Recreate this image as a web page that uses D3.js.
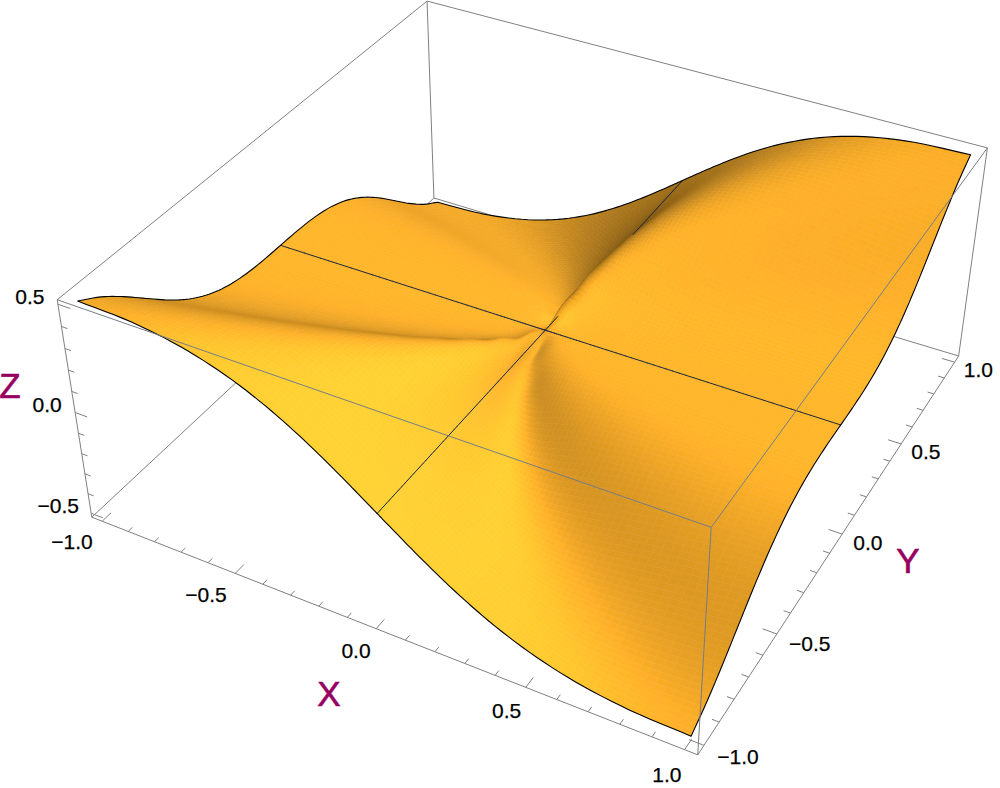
<!DOCTYPE html>
<html>
<head>
<meta charset="UTF-8">
<title>Surface plot</title>
<script src="https://cdnjs.cloudflare.com/ajax/libs/d3/7.8.5/d3.min.js"></script>
<style>
  body { margin: 0; background: #fff; }
  svg { display: block; }
  text { font-family: "Liberation Sans", Arial, sans-serif; }
</style>
</head>
<body>
<svg id="chart" width="1000" height="788"></svg>
<script>
// sample positions of the surface table
var xStops = [-1,-.81,-.64,-.49,-.36,-.25,-.16,-.09,-.04,-.01,0,.01,.04,.09,.16,.25,.36,.49,.64,.81,1];
var yStops = [-1,-.9,-.8,-.7,-.6,-.5,-.4,-.3,-.2,-.1,0,.1,.2,.3,.4,.5,.6,.7,.8,.9,1];

// surface heights, one row per y stop, one column per x stop
var zRows = [
  [.5,.4891,.454,.3951,.3187,.2353,.156,.0893,.0399,.01,0,-.01,-.0399,-.0893,-.156,-.2353,-.3187,-.3951,-.454,-.4891,-.5],
  [.4402,.45,.4378,.3986,.334,.2536,.1711,.0988,.0443,.0111,0,-.0111,-.0443,-.0988,-.1711,-.2536,-.334,-.3986,-.4378,-.45,-.4402],
  [.3632,.3892,.4,.3861,.3418,.2711,.1882,.1103,.0498,.0125,0,-.0125,-.0498,-.1103,-.1882,-.2711,-.3418,-.3861,-.4,-.3892,-.3632],
  [.2766,.31,.3379,.35,.334,.2834,.2065,.1244,.0568,.0143,0,-.0143,-.0568,-.1244,-.2065,-.2834,-.334,-.35,-.3379,-.31,-.2766],
  [.1912,.2227,.2564,.2863,.3,.2811,.2227,.1412,.0659,.0167,0,-.0167,-.0659,-.1412,-.2227,-.2811,-.3,-.2863,-.2564,-.2227,-.1912],
  [.1176,.1409,.1695,.2024,.2343,.25,.227,.1593,.078,.02,0,-.02,-.078,-.1593,-.227,-.25,-.2343,-.2024,-.1695,-.1409,-.1176],
  [.0624,.076,.0941,.118,.1485,.1816,.2,.1709,.0941,.0249,0,-.0249,-.0941,-.1709,-.2,-.1816,-.1485,-.118,-.0941,-.076,-.0624],
  [.0268,.0329,.0414,.0533,.0706,.0956,.1282,.15,.1113,.0329,0,-.0329,-.1113,-.15,-.1282,-.0956,-.0706,-.0533,-.0414,-.0329,-.0268],
  [.008,.0099,.0125,.0162,.022,.0312,.0471,.0742,.1,.047,0,-.047,-.1,-.0742,-.0471,-.0312,-.022,-.0162,-.0125,-.0099,-.008],
  [.001,.0012,.0016,.002,.0028,.004,.0062,.011,.0235,.05,0,-.05,-.0235,-.011,-.0062,-.004,-.0028,-.002,-.0016,-.0012,-.001],
  [0,0,0,0,0,0,0,0,0,0,0,0,0,0,0,0,0,0,0,0,0],
  [-.001,-.0012,-.0016,-.002,-.0028,-.004,-.0062,-.011,-.0235,-.05,0,.05,.0235,.011,.0062,.004,.0028,.002,.0016,.0012,.001],
  [-.008,-.0099,-.0125,-.0162,-.022,-.0312,-.0471,-.0742,-.1,-.047,0,.047,.1,.0742,.0471,.0312,.022,.0162,.0125,.0099,.008],
  [-.0268,-.0329,-.0414,-.0533,-.0706,-.0956,-.1282,-.15,-.1113,-.0329,0,.0329,.1113,.15,.1282,.0956,.0706,.0533,.0414,.0329,.0268],
  [-.0624,-.076,-.0941,-.118,-.1485,-.1816,-.2,-.1709,-.0941,-.0249,0,.0249,.0941,.1709,.2,.1816,.1485,.118,.0941,.076,.0624],
  [-.1176,-.1409,-.1695,-.2024,-.2343,-.25,-.227,-.1593,-.078,-.02,0,.02,.078,.1593,.227,.25,.2343,.2024,.1695,.1409,.1176],
  [-.1912,-.2227,-.2564,-.2863,-.3,-.2811,-.2227,-.1412,-.0659,-.0167,0,.0167,.0659,.1412,.2227,.2811,.3,.2863,.2564,.2227,.1912],
  [-.2766,-.31,-.3379,-.35,-.334,-.2834,-.2065,-.1244,-.0568,-.0143,0,.0143,.0568,.1244,.2065,.2834,.334,.35,.3379,.31,.2766],
  [-.3632,-.3892,-.4,-.3861,-.3418,-.2711,-.1882,-.1103,-.0498,-.0125,0,.0125,.0498,.1103,.1882,.2711,.3418,.3861,.4,.3892,.3632],
  [-.4402,-.45,-.4378,-.3986,-.334,-.2536,-.1711,-.0988,-.0443,-.0111,0,.0111,.0443,.0988,.1711,.2536,.334,.3986,.4378,.45,.4402],
  [-.5,-.4891,-.454,-.3951,-.3187,-.2353,-.156,-.0893,-.0399,-.01,0,.01,.0399,.0893,.156,.2353,.3187,.3951,.454,.4891,.5]
];

var xyLabels = [-1, -.5, 0, .5, 1];
var zLabels = [-.5, 0, .5];
var axisTitles = ['X', 'Y', 'Z'];

// layout
var titleAt = { X: [329, 693], Y: [908, 560], Z: [10, 385] };
var SUB = 6;            // mesh refinement per table cell
var MAJOR = .045, MINOR = .022;
var boxColor = '#808080';
var titleColor = '#96005f';
var baseColor = [224.6, 155.8, 36.2];

var svg = d3.select('#chart');

var sx = d3.scaleLinear().domain([-1.04, 1.04]).range([0, 1]);
var sy = d3.scaleLinear().domain([-1.04, 1.04]).range([0, 1]);
var sz = d3.scaleLinear().domain([-.52, .52]).range([0, 1]);

// Camera: fitted to where the eight corners of the box land in the picture
var anchors = [
  [0, 0, 0, 92, 517], [1, 0, 0, 697, 755], [1, 1, 0, 959, 356], [0, 1, 0, 434, 198],
  [0, 0, 1, 57, 300], [1, 0, 1, 712, 527], [1, 1, 1, 987, 148], [0, 1, 1, 427, 1]
];

function fitCamera(pts) {
  var A = [], b = [];
  pts.forEach(function(p) {
    A.push([p[0], p[1], p[2], 1, 0, 0, 0, 0, -p[3] * p[0], -p[3] * p[1], -p[3] * p[2]]); b.push(p[3]);
    A.push([0, 0, 0, 0, p[0], p[1], p[2], 1, -p[4] * p[0], -p[4] * p[1], -p[4] * p[2]]); b.push(p[4]);
  });
  var n = 11, M = [];
  for (var r = 0; r < n; r++) {
    M.push([]);
    for (var c = 0; c < n; c++) M[r].push(d3.sum(A, function(row) { return row[r] * row[c]; }));
    M[r].push(d3.sum(A, function(row, k) { return row[r] * b[k]; }));
  }
  // gauss elimination
  for (var i = 0; i < n; i++) {
    var piv = i;
    for (var k = i + 1; k < n; k++) if (Math.abs(M[k][i]) > Math.abs(M[piv][i])) piv = k;
    var tmp = M[i]; M[i] = M[piv]; M[piv] = tmp;
    for (var k2 = 0; k2 < n; k2++) {
      if (k2 === i) continue;
      var f = M[k2][i] / M[i][i];
      for (var c2 = i; c2 <= n; c2++) M[k2][c2] -= f * M[i][c2];
    }
  }
  return M.map(function(row, i) { return row[n] / row[i]; });
}
var cam = fitCamera(anchors);

function depth(x, y, z) {
  return cam[8] * sx(x) + cam[9] * sy(y) + cam[10] * sz(z) + 1;
}
function project(x, y, z) {
  var u = sx(x), v = sy(y), w = sz(z), d = cam[8] * u + cam[9] * v + cam[10] * w + 1;
  return [(cam[0] * u + cam[1] * v + cam[2] * w + cam[3]) / d,
          (cam[4] * u + cam[5] * v + cam[6] * w + cam[7]) / d];
}

var line = d3.line();
function seg(a, b) { return line([project.apply(null, a), project.apply(null, b)]); }

// Box edges behind the surface
var X0 = -1.04, X1 = 1.04, Z0 = -.52, Z1 = .52;
var backEdges = [
  [[X0, X0, Z1], [X0, X1, Z1]], [[X0, X1, Z1], [X1, X1, Z1]], [[X0, X1, Z1], [X0, X1, Z0]],
  [[X0, X0, Z0], [X0, X1, Z0]], [[X0, X1, Z0], [X1, X1, Z0]], [[X0, X0, Z1], [X0, X0, Z0]],
  [[X0, X0, Z0], [X1, X0, Z0]], [[X1, X0, Z0], [X1, X1, Z0]], [[X1, X1, Z0], [X1, X1, Z1]]
];
var frontEdges = [
  [[X0, X0, Z1], [X1, X0, Z1]], [[X1, X0, Z1], [X1, X1, Z1]], [[X1, X0, Z1], [X1, X0, Z0]]
];

svg.append('g').selectAll('path').data(backEdges).join('path')
  .attr('d', function(d) { return seg(d[0], d[1]); })
  .attr('fill', 'none').attr('stroke', boxColor).attr('stroke-width', 1);

// Axes: ticks every 0.1, longer at the labelled ones
function isMajor(v, labels) {
  return labels.some(function(l) { return Math.abs(l - v) < 1e-6; });
}
var ticks = [];
sx.ticks(20).forEach(function(v) {
  var len = isMajor(v, xyLabels) ? MAJOR : MINOR;
  ticks.push([[v, X0, Z0], [v, X0 + len, Z0]]);
});
sy.ticks(20).forEach(function(v) {
  var len = isMajor(v, xyLabels) ? MAJOR : MINOR;
  ticks.push([[X1, v, Z0], [X1 - len, v, Z0]]);
});
sz.ticks(10).forEach(function(v) {
  var len = isMajor(v, zLabels) ? MAJOR : MINOR;
  ticks.push([[X0, X0, v], [X0 + len, X0, v]]);
});
svg.append('g').selectAll('path').data(ticks).join('path')
  .attr('d', function(d) { return seg(d[0], d[1]); })
  .attr('fill', 'none').attr('stroke', boxColor).attr('stroke-width', 1);

var fmt = d3.format('.1f');
function tickText(data, pos) {
  svg.append('g').selectAll('text').data(data).join('text')
    .attr('x', function(d) { return pos(d)[0]; })
    .attr('y', function(d) { return pos(d)[1]; })
    .attr('text-anchor', 'middle').attr('dominant-baseline', 'central')
    .attr('font-size', 21).attr('fill', '#000')
    .attr('stroke', '#000').attr('stroke-width', .25)
    .text(fmt);
}
tickText(xyLabels, function(v) {
  var p = project(v, X0 - .105, Z0);
  return [p[0] - 1 - (v < 0 ? 8 : 0), p[1]];
});
tickText(xyLabels, function(v) {
  var p = project(X1 + .085, v, Z0);
  return [p[0] + (v < 0 ? 6 : 0), p[1]];
});
tickText(zLabels, function(v) {
  var p = project(X0, X0, v);
  return [p[0] - 28 - (v < 0 ? 5 : 0), p[1] - 7.5];
});

svg.append('g').selectAll('text').data(axisTitles).join('text')
  .attr('x', function(d) { return titleAt[d][0]; })
  .attr('y', function(d) { return titleAt[d][1]; })
  .attr('text-anchor', 'middle').attr('dominant-baseline', 'central')
  .attr('font-size', 35).attr('fill', titleColor)
  .attr('stroke', titleColor).attr('stroke-width', .6)
  .text(function(d) { return d; });

// Refine the table into a smooth mesh (Catmull-Rom through the table values)
function refine(a) {
  var out = [], n = a.length;
  for (var i = 0; i < n - 1; i++) {
    var p0 = i > 0 ? a[i - 1] : 2 * a[0] - a[1],
        p1 = a[i], p2 = a[i + 1],
        p3 = i < n - 2 ? a[i + 2] : 2 * a[n - 1] - a[n - 2];
    for (var s = 0; s < SUB; s++) {
      var t = s / SUB;
      out.push(.5 * (2 * p1 + (p2 - p0) * t + (2 * p0 - 5 * p1 + 4 * p2 - p3) * t * t + (3 * p1 - p0 - 3 * p2 + p3) * t * t * t));
    }
  }
  out.push(a[n - 1]);
  return out;
}
var xs = refine(xStops), ys = refine(yStops);
var rowsFine = zRows.map(refine);
var zs = ys.map(function() { return []; });
xs.forEach(function(_, c) {
  var col = refine(rowsFine.map(function(r) { return r[c]; }));
  col.forEach(function(v, r) { zs[r][c] = v; });
});
var nx = xs.length, ny = ys.length;

// Lighting: ambient plus three directional lights fixed to the view
var eye = [.384, -.709, .591], right = [.879, .476, 0], up = [-.281, .519, .806];
var lights = [[2, 0, 2], [2, 2, 2], [0, 2, 2]].map(function(l) {
  var m = Math.hypot(l[0], l[1], l[2]);
  return [l[0] / m, l[1] / m, l[2] / m];
});
var Z_ASPECT = .8;
var STENCIL = SUB / 2;   // wide enough to hide the cell pattern of the table
function dot(a, b) { return a[0] * b[0] + a[1] * b[1] + a[2] * b[2]; }

function shadeAt(r, c) {
  var c0 = Math.max(c - STENCIL, 0), c1 = Math.min(c + STENCIL, nx - 1),
      r0 = Math.max(r - STENCIL, 0), r1 = Math.min(r + STENCIL, ny - 1);
  var zx = Z_ASPECT * (zs[r][c1] - zs[r][c0]) / (xs[c1] - xs[c0]),
      zy = Z_ASPECT * (zs[r1][c] - zs[r0][c]) / (ys[r1] - ys[r0]);
  var m = Math.hypot(zx, zy, 1), n = [-zx / m, -zy / m, 1 / m];
  var nv = [dot(n, right), dot(n, up), dot(n, eye)];
  return .35 + .37 * d3.sum(lights, function(l) { return Math.max(0, dot(nv, l)); });
}
var rawShade = zs.map(function(row, r) { return row.map(function(_, c) { return shadeAt(r, c); }); });

// box smoothing of the shading over table cell size, takes out ripples
function boxSmooth(g, rad) {
  return g.map(function(row, r) {
    return row.map(function(_, c) {
      var sum = 0, cnt = 0;
      for (var a = Math.max(r - rad, 0); a <= Math.min(r + rad, ny - 1); a++) {
        for (var b = Math.max(c - rad, 0); b <= Math.min(c + rad, nx - 1); b++) { sum += g[a][b]; cnt++; }
      }
      return sum / cnt;
    });
  });
}
var shade = boxSmooth(boxSmooth(rawShade, 2), 2);

// Painter's list: surface cells, far to near
var cells = [];
for (var r = 0; r < ny - 1; r++) {
  for (var c = 0; c < nx - 1; c++) {
    var corners = [[c, r], [c + 1, r], [c + 1, r + 1], [c, r + 1]];
    var dep = d3.mean(corners, function(p) { return depth(xs[p[0]], ys[p[1]], zs[p[1]][p[0]]); });
    var L = d3.mean(corners, function(p) { return shade[p[1]][p[0]]; });
    cells.push({
      depth: dep,
      color: d3.rgb(baseColor[0] * L, baseColor[1] * L, baseColor[2] * L).clamp().formatHex(),
      pts: corners.map(function(p) { return project(xs[p[0]], ys[p[1]], zs[p[1]][p[0]]); })
    });
  }
}
cells.sort(function(a, b) { return b.depth - a.depth; });

// Surface boundary
var rim = [];
d3.range(nx).forEach(function(c) { rim.push(project(xs[c], ys[0], zs[0][c])); });
d3.range(ny).forEach(function(r) { rim.push(project(xs[nx - 1], ys[r], zs[r][nx - 1])); });
d3.range(nx - 1, -1, -1).forEach(function(c) { rim.push(project(xs[c], ys[ny - 1], zs[ny - 1][c])); });
d3.range(ny - 1, -1, -1).forEach(function(r) { rim.push(project(xs[0], ys[r], zs[r][0])); });

var defs = svg.append('defs');
defs.append('filter').attr('id', 'soft')
  .attr('x', '-2%').attr('y', '-2%').attr('width', '104%').attr('height', '104%')
  .append('feGaussianBlur').attr('stdDeviation', .7);
defs.append('clipPath').attr('id', 'rimClip').append('path').attr('d', line(rim) + 'Z');

svg.append('g').attr('clip-path', 'url(#rimClip)')
  .append('g').attr('filter', 'url(#soft)')
  .selectAll('path').data(cells).join('path')
  .attr('d', function(d) { return line(d.pts) + 'Z'; })
  .attr('fill', function(d) { return d.color; })
  .attr('stroke', function(d) { return d.color; })
  .attr('stroke-width', .6);

// Mesh lines at x = 0 and y = 0, leaving out pieces hidden behind a fold
var midX = (nx - 1) / 2, midY = (ny - 1) / 2;
var meshPieces = [];
d3.range(nx - 1).forEach(function(i) {
  meshPieces.push([[xs[i], 0, zs[midY][i]], [xs[i + 1], 0, zs[midY][i + 1]]]);
});
d3.range(ny - 1).forEach(function(j) {
  meshPieces.push([[0, ys[j], zs[j][midX]], [0, ys[j + 1], zs[j + 1][midX]]]);
});
function visible(piece) {
  var mx = (piece[0][0] + piece[1][0]) / 2, my = (piece[0][1] + piece[1][1]) / 2, mz = (piece[0][2] + piece[1][2]) / 2;
  var d = depth(mx, my, mz) - .006, p = project(mx, my, mz);
  return !cells.some(function(cell) {
    return cell.depth < d && d3.polygonContains(cell.pts, p);
  });
}
svg.append('g').selectAll('path').data(meshPieces.filter(visible)).join('path')
  .attr('d', function(d) { return seg(d[0], d[1]); })
  .attr('fill', 'none').attr('stroke', '#1f2a40').attr('stroke-width', 1).attr('stroke-linecap', 'round');

svg.append('path').attr('d', line(rim) + 'Z')
  .attr('fill', 'none').attr('stroke', '#000').attr('stroke-width', 1.1).attr('stroke-linejoin', 'round');

// Box edges in front of the surface
svg.append('g').selectAll('path').data(frontEdges).join('path')
  .attr('d', function(d) { return seg(d[0], d[1]); })
  .attr('fill', 'none').attr('stroke', '#767c88').attr('stroke-width', 1);
</script>
</body>
</html>
